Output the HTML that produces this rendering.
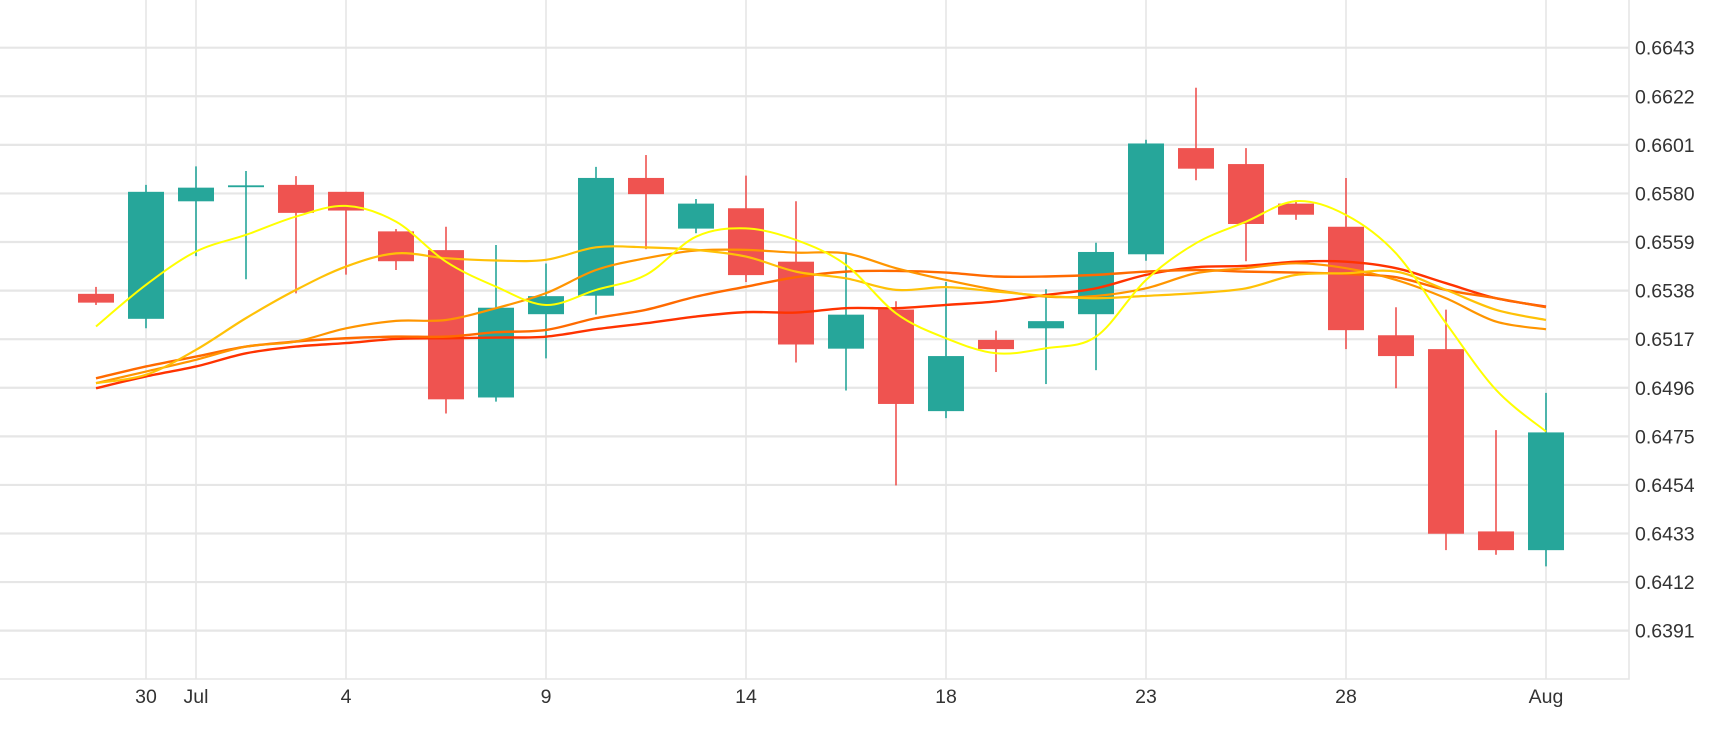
<!DOCTYPE html>
<html><head><meta charset="utf-8"><style>
html,body{margin:0;padding:0;background:#fff;}
svg{display:block;font-family:"Liberation Sans",sans-serif;}
</style></head><body>
<svg id="chart" width="1730" height="730" viewBox="0 0 1730 730"></svg>
<script>
const dates=["Jun 28","30","Jul","2","3","4","5","7","8","9","10","11","12","14","15","16","17","18","19","21","22","23","24","25","26","28","29","30","31","Aug"];
const opens =[0.65366,0.65258,0.65766,0.65827,0.65837,0.65807,0.65636,0.65555,0.64918,0.65278,0.65358,0.65867,0.65648,0.65736,0.65505,0.65129,0.65298,0.64859,0.65167,0.65217,0.65278,0.65537,0.65996,0.65927,0.65756,0.65656,0.65187,0.65127,0.64339,0.64258];
const closes=[0.65328,0.65807,0.65825,0.65835,0.65716,0.65726,0.65507,0.6491,0.65306,0.65356,0.65867,0.65797,0.65756,0.65447,0.65147,0.65276,0.6489,0.65097,0.65127,0.65248,0.65547,0.66016,0.65907,0.65668,0.65708,0.65209,0.65097,0.64329,0.64258,0.64767];
const highs =[0.65396,0.65837,0.65917,0.65897,0.65875,0.65807,0.65646,0.65656,0.65577,0.65497,0.65915,0.65966,0.65776,0.65877,0.65766,0.65545,0.65334,0.65417,0.65207,0.65386,0.65587,0.66032,0.66257,0.65996,0.6577,0.65867,0.65308,0.65298,0.64777,0.64938];
const lows  =[0.65318,0.65217,0.65529,0.65429,0.65368,0.65449,0.65469,0.64849,0.649,0.65087,0.65276,0.65559,0.65628,0.65417,0.65069,0.64948,0.64538,0.64829,0.65028,0.64976,0.65036,0.65509,0.65857,0.65507,0.65686,0.65127,0.64958,0.64258,0.64238,0.64188];
const maYellow=[0.65225,0.65405,0.65549,0.65621,0.657,0.65746,0.65678,0.65505,0.65397,0.65318,0.65383,0.65448,0.65613,0.65649,0.65599,0.65491,0.65282,0.65174,0.65109,0.65131,0.65181,0.65426,0.65585,0.65678,0.65767,0.65707,0.65541,0.65239,0.64951,0.64771];
const maGold=[0.6498,0.65016,0.65124,0.65261,0.65383,0.65484,0.65541,0.6552,0.6551,0.65513,0.65567,0.65567,0.65556,0.65527,0.65462,0.65433,0.65383,0.65395,0.65376,0.65357,0.65347,0.65357,0.65369,0.6539,0.65448,0.65455,0.65462,0.65383,0.65297,0.65253];
const maOrange=[0.6498,0.6503,0.65081,0.65138,0.6516,0.65217,0.65249,0.65253,0.65304,0.65369,0.65469,0.6552,0.65553,0.65556,0.65544,0.65541,0.65477,0.65426,0.65383,0.65354,0.65357,0.6539,0.65455,0.65477,0.65498,0.65477,0.65426,0.65347,0.65246,0.65213];
const maDark=[0.65001,0.65052,0.65095,0.65138,0.6516,0.65174,0.65181,0.65181,0.652,0.6521,0.65261,0.65297,0.65354,0.65397,0.65438,0.65462,0.65465,0.65458,0.65441,0.65441,0.65448,0.65462,0.65469,0.65462,0.65458,0.65452,0.65438,0.65383,0.65347,0.65308];
const maRed=[0.64958,0.65009,0.65052,0.65109,0.65138,0.65153,0.65171,0.65174,0.65177,0.65181,0.65213,0.65239,0.65268,0.65287,0.65285,0.65304,0.65304,0.65318,0.65333,0.65361,0.6539,0.65448,0.65481,0.65487,0.65505,0.65505,0.65477,0.65412,0.65347,0.65311];
const yTickLabels=["0.6643","0.6622","0.6601","0.6580","0.6559","0.6538","0.6517","0.6496","0.6475","0.6454","0.6433","0.6412","0.6391"];
const xTickIdx=[1,2,5,9,13,17,21,25,29];
const xTickLabels=["30","Jul","4","9","14","18","23","28","Aug"];

const NS="http://www.w3.org/2000/svg";
const svg=document.getElementById("chart");
const X0=96, DX=50, PR=1629, PB=679;
function xs(i){return X0+DX*i;}
function ys(v){return 47.7+(0.6643-v)/0.0021*48.58;}
function mk(tag,attrs,parent){const e=document.createElementNS(NS,tag);for(const k in attrs)e.setAttribute(k,attrs[k]);(parent||svg).appendChild(e);return e;}

const grid=mk("g",{});


yTickLabels.forEach(t=>{
  const y=ys(parseFloat(t));
  const l=mk("line",{x1:0,x2:PR,y1:y,y2:y,stroke:"#e6e6e6","stroke-width":2.2},grid);
  
  
  const tx=mk("text",{x:1635,y:y+7,"font-size":19.5,fill:"#333"});
  tx.textContent=t;
  
  
});
xTickIdx.forEach((idx,k)=>{
  const x=xs(idx);
  const l=mk("line",{x1:x,x2:x,y1:0,y2:PB,stroke:"#e6e6e6","stroke-width":1.6},grid);
  
  
  const tx=mk("text",{x:x,y:703,"font-size":19.5,fill:"#333","text-anchor":"middle"});
  tx.textContent=xTickLabels[k];
  
  
});
const bx=mk("path",{d:`M0 ${PB} H${PR} V0`,stroke:"#e6e6e6","stroke-width":1.6,fill:"none"});



const candles=mk("g",{});


for(let i=0;i<dates.length;i++){
  const up=closes[i]>=opens[i];
  const col=up?"#26a69a":"#ef5350";
  const x=xs(i);
  const g=mk("g",{},candles);
  
  
  mk("line",{x1:x,x2:x,y1:ys(highs[i]),y2:ys(lows[i]),stroke:col,"stroke-width":1.6},g);
  const t=ys(Math.max(opens[i],closes[i])), b=ys(Math.min(opens[i],closes[i]));
  mk("rect",{x:x-18,y:t,width:36,height:Math.max(b-t,1.5),fill:col},g);
}

function smoothPath(vals){
  const p=vals.map((v,i)=>[xs(i),ys(v)]);
  let d=`M${p[0][0]} ${p[0][1]}`;
  for(let i=0;i<p.length-1;i++){
    const p0=p[Math.max(i-1,0)],p1=p[i],p2=p[i+1],p3=p[Math.min(i+2,p.length-1)];
    const c1=[p1[0]+(p2[0]-p0[0])/6,p1[1]+(p2[1]-p0[1])/6];
    const c2=[p2[0]-(p3[0]-p1[0])/6,p2[1]-(p3[1]-p1[1])/6];
    d+=` C${c1[0]} ${c1[1]} ${c2[0]} ${c2[1]} ${p2[0]} ${p2[1]}`;
  }
  return d;
}
const series=[[maRed,"#ff3300",2.4,"ma-line-red"],[maDark,"#ff6a00",2.4,"ma-line-dark-orange"],[maOrange,"#ff9500",2.2,"ma-line-orange"],[maGold,"#ffc107",2.2,"ma-line-gold"],[maYellow,"#ffff00",2,"ma-line-yellow"]];
series.forEach(s=>{
  const p=mk("path",{d:smoothPath(s[0]),stroke:s[1],"stroke-width":s[2],fill:"none"});
  
  
});
</script>
</body></html>
